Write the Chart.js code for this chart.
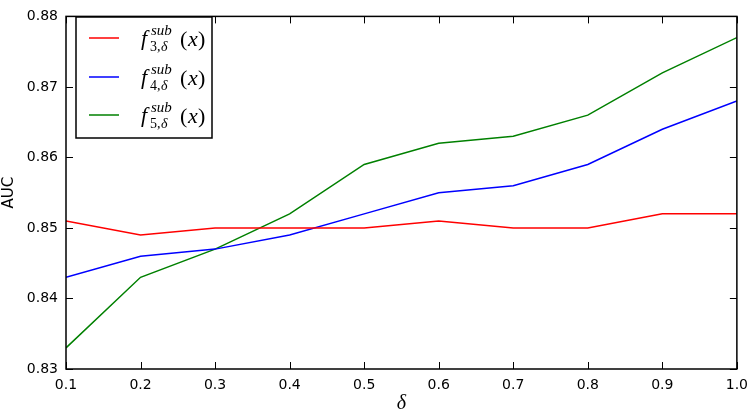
<!DOCTYPE html>
<html>
<head>
<meta charset="utf-8">
<script src="https://cdn.jsdelivr.net/npm/chart.js@4"></script>
<style>
  html, body { margin: 0; padding: 0; background: #fff; }
  #wrap { width: 756px; height: 418px; }
</style>
</head>
<body>
<div id="wrap"><canvas id="grafica"></canvas></div>
<script>
// valores
var deltas = [0.1, 0.2, 0.3, 0.4, 0.5, 0.6, 0.7, 0.8, 0.9, 1.0];
var aucF3 = [0.851, 0.849, 0.850, 0.850, 0.850, 0.851, 0.850, 0.850, 0.852, 0.852];
var aucF4 = [0.843, 0.846, 0.847, 0.849, 0.852, 0.855, 0.856, 0.859, 0.864, 0.868];
var aucF5 = [0.833, 0.843, 0.847, 0.852, 0.859, 0.862, 0.863, 0.866, 0.872, 0.877];
var subIndices = ['3', '4', '5'];
var colores = ['#ff0000', '#0000ff', '#008000'];

function puntos(ys) {
    return deltas.map(function (x, i) { return { x: x, y: ys[i] }; });
}

// marco, ticks hacia adentro y leyenda estilo matplotlib
var marcoPlugin = {
    id: 'marco',
    afterDatasetsDraw: function (chart) {
        var ctx = chart.ctx;
        var a = chart.chartArea;
        var sx = chart.scales.x, sy = chart.scales.y;
        ctx.save();
        ctx.strokeStyle = '#000';
        ctx.lineWidth = 1;
        ctx.beginPath();
        sx.ticks.forEach(function (t) {
            var px = Math.round(sx.getPixelForValue(t.value)) + 0.5;
            ctx.moveTo(px, a.bottom); ctx.lineTo(px, a.bottom - 7);
            ctx.moveTo(px, a.top); ctx.lineTo(px, a.top + 7);
        });
        sy.ticks.forEach(function (t) {
            var py = Math.round(sy.getPixelForValue(t.value)) + 0.5;
            ctx.moveTo(a.left, py); ctx.lineTo(a.left + 7, py);
            ctx.moveTo(a.right, py); ctx.lineTo(a.right - 7, py);
        });
        ctx.stroke();
        ctx.lineWidth = 1.5;
        ctx.strokeRect(a.left, a.top, a.right - a.left, a.bottom - a.top);

        // leyenda
        var lx = 76, ly = 17, lw = 136, lh = 121;
        ctx.fillStyle = '#fff';
        ctx.fillRect(lx, ly, lw, lh);
        ctx.strokeRect(lx, ly, lw, lh);
        var filas = [38, 77, 115];
        chart.data.datasets.forEach(function (ds, i) {
            var yc = filas[i];
            ctx.strokeStyle = ds.borderColor;
            ctx.lineWidth = 1.5;
            ctx.beginPath();
            ctx.moveTo(89, yc); ctx.lineTo(119, yc);
            ctx.stroke();
            ctx.fillStyle = '#000';
            ctx.textAlign = 'left';
            ctx.textBaseline = 'alphabetic';
            ctx.font = 'italic 22px "Liberation Serif"';
            ctx.fillText('f', 141, yc + 7);
            ctx.font = 'italic 15px "Liberation Serif"';
            ctx.fillText('sub', 151, yc - 3);
            ctx.font = '14px "Liberation Serif"';
            ctx.fillText(subIndices[i] + ',', 150, yc + 13);
            ctx.font = 'italic 14px "Liberation Serif"';
            ctx.fillText('δ', 161, yc + 13);
            ctx.font = '22px "Liberation Serif"';
            ctx.fillText('(', 180, yc + 8);
            ctx.font = 'italic 22px "Liberation Serif"';
            ctx.fillText('x', 188, yc + 8);
            ctx.font = '22px "Liberation Serif"';
            ctx.fillText(')', 198, yc + 8);
        });
        ctx.restore();
    }
};

var chart = new Chart(document.getElementById('grafica').getContext('2d'), {
    type: 'line',
    data: {
        datasets: [
            { label: 'f3', data: puntos(aucF3), borderColor: colores[0], borderWidth: 1.5, pointRadius: 0, tension: 0, fill: false },
            { label: 'f4', data: puntos(aucF4), borderColor: colores[1], borderWidth: 1.5, pointRadius: 0, tension: 0, fill: false },
            { label: 'f5', data: puntos(aucF5), borderColor: colores[2], borderWidth: 1.5, pointRadius: 0, tension: 0, fill: false }
        ]
    },
    options: {
        responsive: true,
        maintainAspectRatio: false,
        animation: false,
        layout: { padding: { left: 0, top: 6, right: 11, bottom: 0 } },
        plugins: {
            legend: { display: false },
            tooltip: { enabled: false }
        },
        scales: {
            x: {
                type: 'linear',
                min: 0.1,
                max: 1.0,
                grid: { display: false, drawTicks: false },
                border: { display: false },
                ticks: {
                    stepSize: 0.1,
                    padding: 8,
                    color: '#000',
                    font: { family: 'DejaVu Sans', size: 14 },
                    callback: function (v) { return v.toFixed(1); }
                },
                title: {
                    display: true,
                    text: 'δ',
                    color: '#000',
                    font: { family: 'Liberation Serif', size: 20, style: 'italic' },
                    padding: { top: 0, bottom: 2 }
                },
                afterFit: function (s) { s.height = 49; }
            },
            y: {
                min: 0.83,
                max: 0.88,
                grid: { display: false, drawTicks: false },
                border: { display: false },
                ticks: {
                    stepSize: 0.01,
                    padding: 8,
                    color: '#000',
                    font: { family: 'DejaVu Sans', size: 14 },
                    callback: function (v) { return v.toFixed(2); }
                },
                title: {
                    display: true,
                    text: 'AUC',
                    color: '#000',
                    font: { family: 'DejaVu Sans', size: 15 },
                    padding: { top: 0, bottom: 0 }
                },
                afterFit: function (s) { s.width = 66; }
            }
        }
    },
    plugins: [marcoPlugin]
});
</script>
</body>
</html>
